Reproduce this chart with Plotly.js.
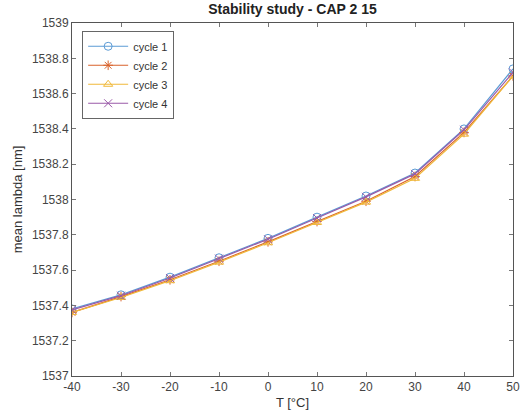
<!DOCTYPE html>
<html><head><meta charset="utf-8">
<script src="https://cdn.plot.ly/plotly-3.0.1.min.js"></script>
<style>body{margin:0;background:#fff}#c{width:526px;height:419px}</style>
</head><body><div id="c"></div>
<script>
const T = [-40, -30, -20, -10, 0, 10, 20, 30, 40, 50];
const cycle1 = [1537.38, 1537.46, 1537.56, 1537.67, 1537.78, 1537.90, 1538.02, 1538.15, 1538.40, 1538.74];
const cycle2 = [1537.36, 1537.45, 1537.545, 1537.65, 1537.76, 1537.875, 1537.99, 1538.13, 1538.38, 1538.70];
const cycle3 = [1537.36, 1537.445, 1537.54, 1537.645, 1537.755, 1537.87, 1537.985, 1538.12, 1538.37, 1538.70];
const cycle4 = [1537.375, 1537.455, 1537.555, 1537.665, 1537.775, 1537.895, 1538.015, 1538.145, 1538.395, 1538.72];
const names = ['cycle 1', 'cycle 2', 'cycle 3', 'cycle 4'];
const colors = ['#5b9bd5', '#d9622b', '#f0b93a', '#9a5aa8'];
const symbols = ['circle-open', 'asterisk-open', 'triangle-up-open', 'x-thin-open'];
const series = [cycle1, cycle2, cycle3, cycle4];
const traces = series.map((y, i) => ({
  x: T, y: y, name: names[i], type: 'scatter', mode: 'lines+markers',
  line: {color: colors[i], width: 1.2},
  marker: {symbol: symbols[i], size: 8, color: colors[i], line: {color: colors[i], width: 1}}
}));
const axisCommon = {
  showgrid: false, zeroline: false, showline: true, mirror: 'ticks',
  linecolor: '#555', linewidth: 1, ticks: 'inside', ticklen: 4, tickcolor: '#777',
  tickfont: {family: 'Liberation Sans, Arial, sans-serif', size: 12, color: '#444'}
};
const layout = {
  width: 526, height: 419,
  margin: {l: 72, r: 13, t: 23, b: 43},
  paper_bgcolor: '#fff', plot_bgcolor: '#fff',
  title: {text: '<b>Stability study - CAP 2 15</b>', xref: 'paper', x: 0.5, xanchor: 'center', y: 0.99, yanchor: 'top',
    font: {family: 'Liberation Sans, Arial, sans-serif', size: 14, color: '#222'}},
  xaxis: Object.assign({}, axisCommon, {range: [-40, 50], tickvals: T, ticktext: T.map(String),
    title: {text: 'T [°C]', standoff: 4, font: {family: 'Liberation Sans, Arial, sans-serif', size: 13, color: '#333'}}}),
  yaxis: Object.assign({}, axisCommon, {range: [1537, 1539], dtick: 0.2, tickformat: '.1~f',
    title: {text: 'mean lambda [nm]', standoff: 6, font: {family: 'Liberation Sans, Arial, sans-serif', size: 13, color: '#333'}}}),
  showlegend: true,
  legend: {x: 0.023, y: 0.978, xanchor: 'left', yanchor: 'top', bgcolor: '#fff',
    bordercolor: '#666', borderwidth: 1, tracegroupgap: 0, itemwidth: 40,
    font: {family: 'Liberation Sans, Arial, sans-serif', size: 11, color: '#333'}}
};
Plotly.newPlot('c', traces, layout, {displayModeBar: false, staticPlot: true});
</script></body></html>
